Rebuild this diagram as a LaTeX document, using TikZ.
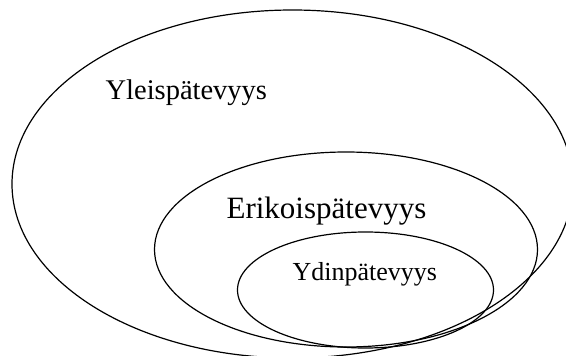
\documentclass[tikz,border=0pt]{standalone}
\usepackage{fontspec}
\setmainfont{Liberation Serif}
\usetikzlibrary{shapes.geometric}

\begin{document}
\begin{tikzpicture}[x=1pt,y=-1pt,line width=1.2pt,
	level/.style={ellipse, draw, inner sep=0pt, outer sep=0pt},
	lbl/.style={anchor=base west, inner sep=0pt}]
	
	\useasboundingbox (0,0) rectangle (566,356);
	
	\node (yleis) [level, minimum width=561pt, minimum height=348pt] at (292.5,184) {};
	\node (erikois) [level, minimum width=383pt, minimum height=195pt] at (346,249.5) {};
	\node (ydin) [level, minimum width=256pt, minimum height=116pt] at (365.5,290) {};
	
	\node (yleislbl) [lbl, font=\fontsize{28.5}{30}\selectfont] at (105,99) {Yleispätevyys};
	\node (erikoislbl) [lbl, font=\fontsize{31}{33}\selectfont] at (226,218) {Erikoispätevyys};
	\node (ydinlbl) [lbl, font=\fontsize{26}{28}\selectfont] at (292,280) {Ydinpätevyys};
\end{tikzpicture}
\end{document}
